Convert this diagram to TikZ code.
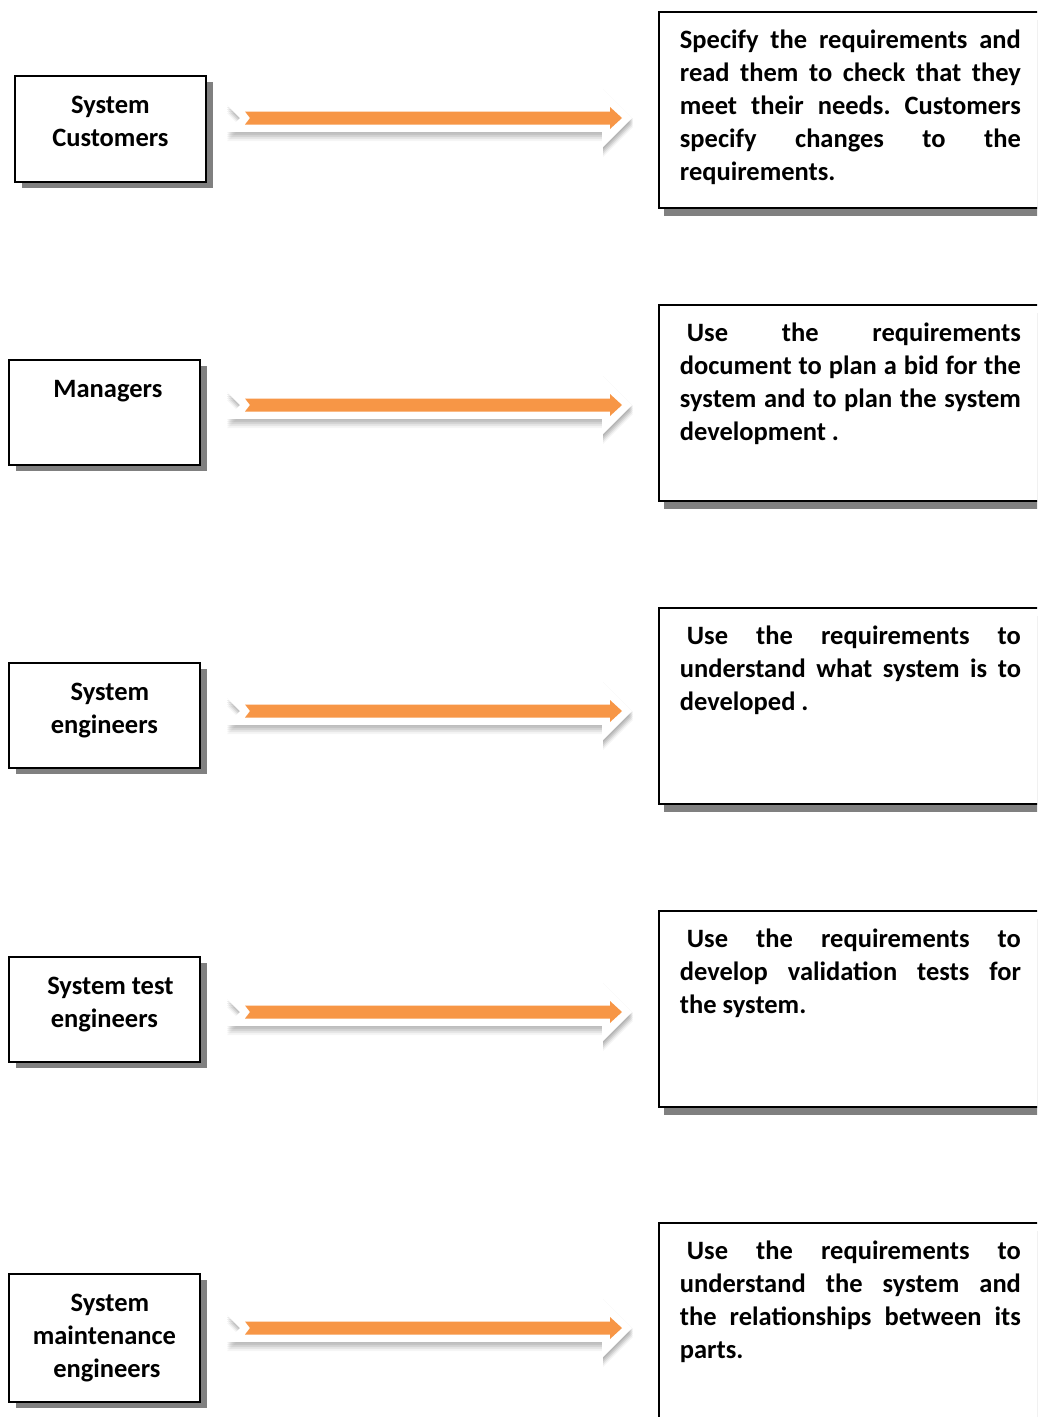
\documentclass[tikz,border=0pt]{standalone}
\usepackage{fontspec}
\setmainfont{Carlito}
\usetikzlibrary{shadows}
\definecolor{arroworange}{HTML}{F79646}
\definecolor{shadowgray}{HTML}{808080}
\frenchspacing
\newcommand{\jline}[1]{\makebox[341pt][s]{#1}}
\newcommand{\ltext}[2]{\parbox[c][#1][t]{191pt}{\centering\fontsize{26.5pt}{33pt}\selectfont\bfseries\rule{0pt}{37.5pt}#2}}
\newcommand{\rtext}[1]{\parbox[c][196pt][t]{402pt}{\fontsize{26.5pt}{33pt}\selectfont\bfseries\leftskip=21pt\rule{0pt}{37pt}#1}}
\begin{document}
\begin{tikzpicture}[x=1pt,y=-1pt,
  lbox/.style={draw=black, line width=1.8pt, fill=white, inner sep=0pt, anchor=north west,
    drop shadow={shadow xshift=7pt, shadow yshift=-6pt, fill=shadowgray, opacity=1}},
  rbox/.style={draw=black, line width=1.8pt, fill=white, inner sep=0pt, anchor=north west,
    drop shadow={shadow xshift=5pt, shadow yshift=-8pt, fill=shadowgray, opacity=1}},
  bigarrow/.pic={
    \foreach \s/\o in {1/0.07, 3/0.08, 5/0.08, 7/0.06, 9/0.04}{
      \fill[black, opacity=\o, shift={(1,\s)}] (226,-14) -- (602,-14) -- (602,-30) -- (632,0) -- (602,30) -- (602,14) -- (226,14) -- (240,0) -- cycle;
    }
    \fill[white] (226,-14) -- (602,-14) -- (602,-30) -- (632,0) -- (602,30) -- (602,14) -- (226,14) -- (240,0) -- cycle;
    \fill[arroworange] (245,-6.5) -- (610,-6.5) -- (610,-11) -- (622,0) -- (610,11) -- (610,6.5) -- (245,6.5) -- (250,0) -- cycle;
  }
]
\useasboundingbox (0,0) rectangle (1037,1417);
\clip (0,0) rectangle (1037,1417);
\fill[white] (0,0) rectangle (1037,1417);

% left boxes
\node[lbox] (L1) at (14,75) {\ltext{106pt}{System\\Customers}};
\node[lbox] (L2) at (8,359) {\ltext{105pt}{\hspace*{7pt}Managers}};
\node[lbox] (L3) at (8,662) {\ltext{105pt}{\hspace*{11pt}System\\engineers}};
\node[lbox] (L4) at (8,956) {\ltext{105pt}{\hspace*{12pt}System test\\engineers}};
\node[lbox] (L5) at (8,1273) {\ltext{128pt}{\hspace*{11pt}System\\maintenance\\\hspace*{5pt}engineers}};

% right boxes
\node[rbox] (R1) at (658,11) {\rtext{\jline{Specify the requirements and}\\\jline{read them to check that they}\\\jline{meet their needs. Customers}\\\jline{specify changes to the}\\requirements.}};
\node[rbox] (R2) at (658,304) {\rtext{\jline{\hspace{7pt}Use the requirements}\\\jline{document to plan a bid for the}\\\jline{system and to plan the system}\\development .}};
\node[rbox] (R3) at (658,607) {\rtext{\jline{\hspace{7pt}Use the requirements to}\\\jline{understand what system is to}\\developed .}};
\node[rbox] (R4) at (658,910) {\rtext{\jline{\hspace{7pt}Use the requirements to}\\\jline{develop validation tests for}\\the system.}};
\node[rbox] (R5) at (658,1222) {\rtext{\jline{\hspace{7pt}Use the requirements to}\\\jline{understand the system and}\\\jline{the relationships between its}\\parts.}};

% arrows
\coordinate (A1) at (0,118);
\coordinate (A2) at (0,405);
\coordinate (A3) at (0,711);
\coordinate (A4) at (0,1012);
\coordinate (A5) at (0,1328);
\foreach \a in {A1,A2,A3,A4,A5}{\pic at (\a) {bigarrow};}
\end{tikzpicture}
\end{document}
